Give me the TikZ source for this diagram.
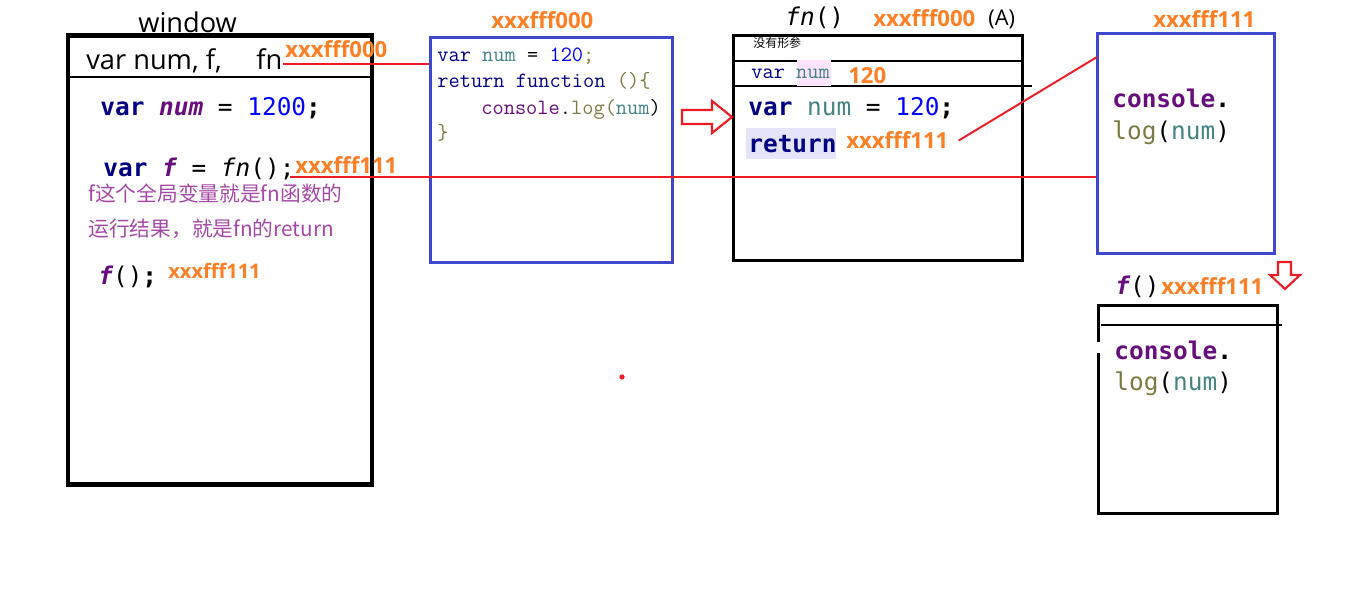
\documentclass[tikz,border=0pt]{standalone}
\usepackage{fontspec}
\setmainfont{Open Sans}
\newfontfamily\cjk{Noto Sans CJK SC}
\newfontfamily\codefont{DejaVu Sans Mono}
\usepackage{tikz}
\usepackage{color}

\definecolor{kw}{HTML}{000080}
\definecolor{vname}{HTML}{660E7A}
\definecolor{numblue}{HTML}{0000FF}
\definecolor{numteal}{HTML}{458383}
\definecolor{logolive}{HTML}{7A7A43}
\definecolor{addrorange}{HTML}{FF7F27}
\definecolor{linkred}{HTML}{ED1C24}
\definecolor{heap}{HTML}{3F48CC}
\definecolor{note}{HTML}{A349A4}
\definecolor{retbg}{HTML}{E4E4FA}
\definecolor{numbg}{HTML}{FFE4FF}

\begin{document}
\begin{tikzpicture}[%
      x=0.02cm, y=-0.02cm,
      box/.style={draw, line width=1.7pt, inner sep=0pt},
      heapbox/.style={draw=heap, line width=1.7pt, inner sep=0pt},
      txt/.style={inner sep=0pt, anchor=base west},
      code/.style={txt, font=\codefont\fontsize{13.9}{16}\selectfont},
      smallcode/.style={txt, font=\ttfamily\fontsize{12.4}{14}\selectfont},
      addr/.style={txt, text=addrorange, font=\bfseries\fontsize{12.6}{14}\selectfont},
      link/.style={color=linkred, line width=1.1pt},
      hollow/.style={draw=linkred, line width=1.2pt, fill=white},
      ]
      \useasboundingbox (0,0) rectangle (1360,591);

      \node[box, line width=2.8pt, minimum width=6.08cm, minimum height=9.0cm] (win) at (220,260) {};
      \node[heapbox, minimum width=4.86cm, minimum height=4.52cm] (heapA) at (551.5,150) {};
      \node[box, minimum width=5.8cm, minimum height=4.52cm] (fnbox) at (878,148) {};
      \node[heapbox, minimum width=3.56cm, minimum height=4.42cm] (heapB) at (1186,143.5) {};
      \node[box, minimum width=3.6cm, minimum height=4.18cm] (fbox) at (1188,409.5) {};

      \draw [line width=0.6pt] (68,77) -- (370,77);
      \draw [line width=1.7pt] (733,61) -- (1023,61);
      \draw [line width=1.7pt] (733,86) -- (1032,86);
      \draw [line width=1.7pt] (1101,325) -- (1282,325);
      \fill [white] (1094,342) rectangle (1102,353);
      \fill [numbg] (797,60) rectangle (831,86);
      \fill [retbg] (746,128) rectangle (836,159);

      \node[txt, font=\fontsize{15.5}{18}\selectfont] (wintitle) at (138,33) {window};
      \node[txt, font=\fontsize{15.5}{18}\selectfont] (winvars) at (86,70) {var num, f,};
      \node[txt, font=\fontsize{15.5}{18}\selectfont] (fnname) at (256,70) {fn};
      \node[addr] (addrwin) at (285,58) {xxxfff000};
      \node[code] (numdecl) at (100,116) {\color{kw}\bfseries var \color{vname}\itshape num\upshape\mdseries{} \color{black}= \color{numblue}1200\color{black}\bfseries;};
      \node[code] (fdecl) at (103,177) {\color{kw}\bfseries var \color{vname}\itshape f\upshape\mdseries{} \color{black}= \itshape fn\upshape();};
      \node[addr] (addrf) at (295,174) {xxxfff111};
      \node[txt, text=note, font=\cjk\fontsize{11.8}{13}\selectfont] (note1) at (88,202) {f这个全局变量就是fn函数的};
      \node[txt, text=note, font=\cjk\fontsize{11.8}{13}\selectfont] (note2) at (88,237) {运行结果，就是fn的return};
      \node[code] (fcall) at (98,285) {\color{vname}\bfseries\itshape f\upshape\mdseries\color{black}()\bfseries;};
      \node[addr, font=\bfseries\fontsize{11.4}{13}\selectfont] (addrcall) at (168,279) {xxxfff111};

      \node[addr] (addrA) at (491,29) {xxxfff000};
      \node[smallcode] (codeA1) at (437,62) {\color{kw}var \color{numteal}num \color{black}= \color{numblue}120\color{logolive};};
      \node[smallcode] (codeA2) at (437,88) {\color{kw}return function \color{logolive}()\{};
      \node[smallcode] (codeA3) at (481,115) {\color{vname}console\color{black}.\color{logolive}log(\color{numteal}num\color{black})};
      \node[smallcode] (codeA4) at (437,140) {\color{logolive}\}};

      \node[code] (fntitle) at (785,26) {\itshape fn\upshape()};
      \node[addr] (addrfn) at (873,27) {xxxfff000};
      \node[txt, font=\fontsize{12.4}{14}\selectfont] (tagA) at (988,26) {(A)};
      \node[txt, font=\cjk\fontsize{6.8}{8}\selectfont] (noparam) at (753,48) {没有形参};
      \node[smallcode] (localvar) at (751,79) {\color{kw}var \color{numteal}num};
      \node[addr] (val120) at (848,84) {120};
      \node[code] (fnnum) at (748,116) {\color{kw}\bfseries var \mdseries\color{numteal}num \color{black}= \color{numblue}120\color{black}\bfseries;};
      \node[code] (fnret) at (748,153) {\color{kw}\bfseries return};
      \node[addr] (ret111) at (846,149) {xxxfff111};

      \node[addr] (addrB) at (1153,28) {xxxfff111};
      \node[code] (conB) at (1112,108) {\color{vname}\bfseries console\color{black}.};
      \node[code] (logB) at (1112,140) {\color{logolive}log\color{black}(\color{numteal}num\color{black})};

      \node[code] (ftitle) at (1115,295) {\color{vname}\bfseries\itshape f\upshape\mdseries\color{black}()};
      \node[addr] (addrft) at (1161,295) {xxxfff111};
      \node[code] (conF) at (1114,359) {\color{vname}\bfseries console\color{black}.};
      \node[code] (logF) at (1114,391) {\color{logolive}log\color{black}(\color{numteal}num\color{black})};

      \coordinate (fref) at (290,177);
      \coordinate (heapBin) at (1097,57);
      \draw [link] ([yshift=0.12cm]fnname.base east) -- ([yshift=0.12cm]fnname.base east -| heapA.west);
      \draw [link] (fref) -- (fref -| heapB.west);
      \draw [link] ([xshift=0.2cm]ret111.east) -- (heapBin);

      \draw [hollow] (682,110) -- (712,110) -- (712,101) -- (732,117) -- (712,133) -- (712,124) -- (682,124) -- cycle;
      \draw [hollow] (1278,262) -- (1291,262) -- (1291,275) -- (1300,275) -- (1285,289) -- (1270,275) -- (1278,275) -- cycle;
      \fill [linkred] (622,377) circle (1.5pt);
\end{tikzpicture}
\end{document}
